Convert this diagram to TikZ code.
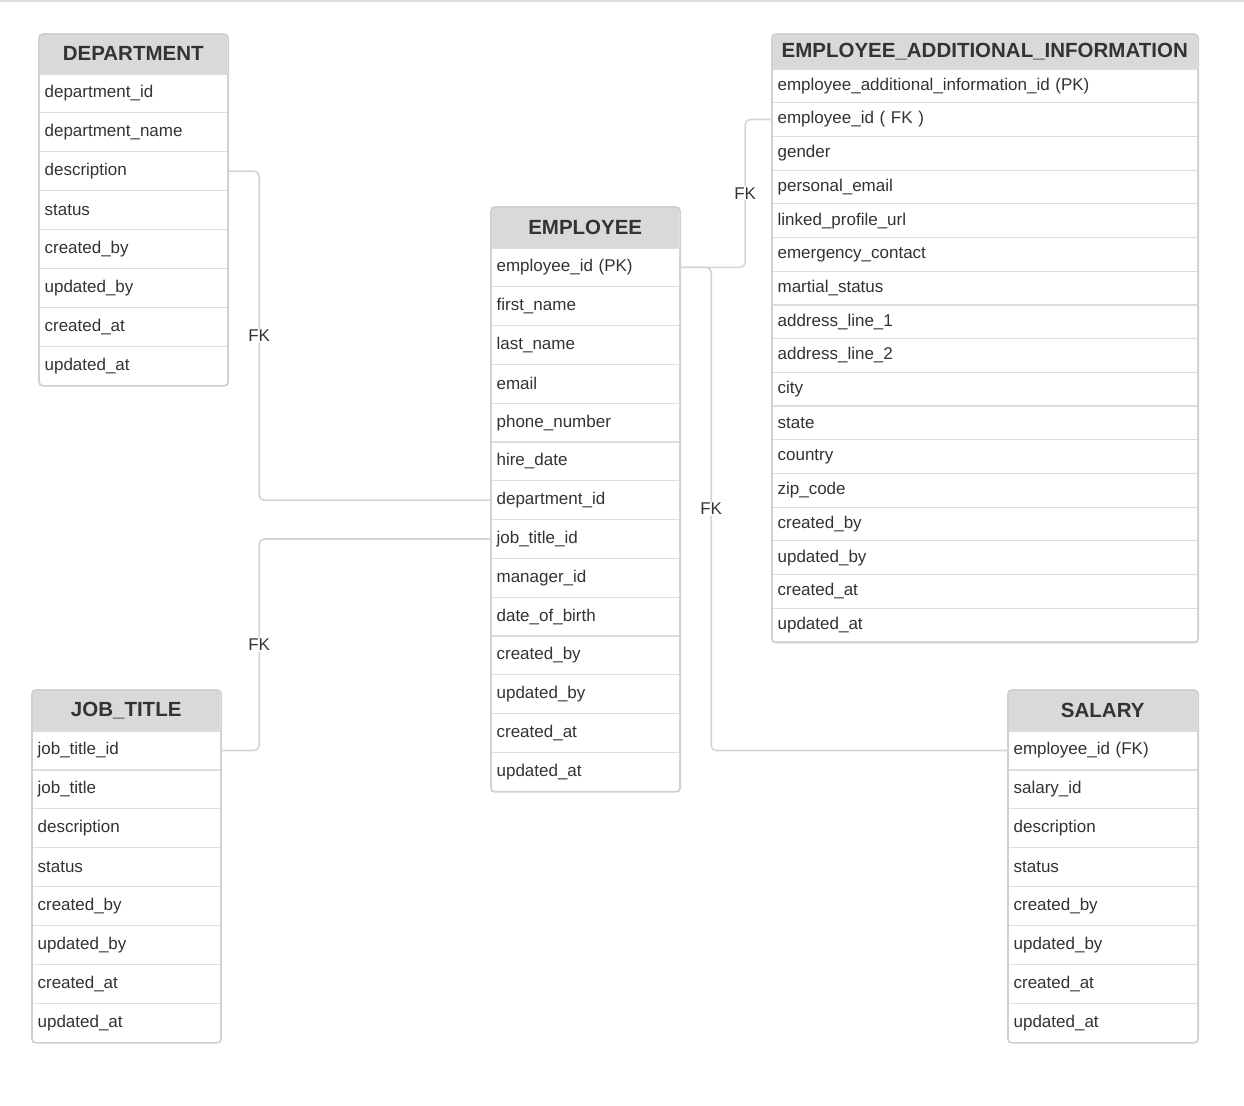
\documentclass[tikz,border=0pt]{standalone}
\usepackage{fontspec}
\setmainfont{Liberation Sans}
\usetikzlibrary{positioning, fit}
\definecolor{inkgray}{RGB}{51,51,51}
\definecolor{headfill}{RGB}{217,217,217}
\definecolor{rowline}{RGB}{221,221,221}
\definecolor{frameline}{RGB}{208,208,208}
\definecolor{linkline}{RGB}{212,212,212}

\begin{document}
\begin{tikzpicture}[
  x=1pt, y=-1pt,
  tblhead/.style n args={2}{anchor=north west, fill=headfill, text=inkgray, inner sep=0pt,
    font=\fontsize{20.5}{24}\selectfont\bfseries, minimum width=#1, minimum height=#2},
  tblrow/.style n args={2}{anchor=north west, draw=rowline, line width=1.2pt, fill=white,
    text=inkgray, font=\fontsize{17}{20}\selectfont, inner xsep=5pt, inner ysep=0pt,
    text width=#1, minimum height=#2, align=left},
  tblframe/.style={draw=frameline, line width=1.6pt, rounded corners=4pt, inner sep=0pt},
  fkline/.style={draw=linkline, line width=1.6pt, rounded corners=5pt},
  fklabel/.style={fill=white, text=inkgray, font=\fontsize{17}{20}\selectfont, inner sep=1pt}
]
\useasboundingbox (0,0) rectangle (1244,1105);
\draw[rowline, line width=1.5pt] (0,1) -- (1244,1);

% department
\node[tblhead={188pt}{39pt}] (dept) at (39,34) {DEPARTMENT};
\foreach \f [count=\i] in {department\_id, department\_name, description, status,
    created\_by, updated\_by, created\_at, updated\_at}
  \node[tblrow={178pt}{38.9pt}] (dept-\i) at ([yshift={-(\i-1)*38.9pt}]dept.south west) {\f};
\node[tblframe, fit=(dept)(dept-8)] {};

% employee
\node[tblhead={188pt}{40pt}] (emp) at (491,207) {EMPLOYEE};
\foreach \f [count=\i] in {employee\_id (PK), first\_name, last\_name, email, phone\_number,
    hire\_date, department\_id, job\_title\_id, manager\_id, date\_of\_birth,
    created\_by, updated\_by, created\_at, updated\_at}
  \node[tblrow={178pt}{38.8pt}] (emp-\i) at ([yshift={-(\i-1)*38.8pt}]emp.south west) {\f};
\node[tblframe, fit=(emp)(emp-14)] {};

% employee additional information
\node[tblhead={425pt}{34pt}] (eai) at (772,34) {EMPLOYEE\_ADDITIONAL\_INFORMATION};
\foreach \f [count=\i] in {employee\_additional\_information\_id (PK), employee\_id ( FK ),
    gender, personal\_email, linked\_profile\_url, emergency\_contact, martial\_status,
    address\_line\_1, address\_line\_2, city, state, country, zip\_code,
    created\_by, updated\_by, created\_at, updated\_at}
  \node[tblrow={415pt}{33.7pt}] (eai-\i) at ([yshift={-(\i-1)*33.7pt}]eai.south west) {\f};
\node[tblframe, fit=(eai)(eai-17)] {};

% job title
\node[tblhead={188pt}{40pt}] (job) at (32,690) {JOB\_TITLE};
\foreach \f [count=\i] in {job\_title\_id, job\_title, description, status,
    created\_by, updated\_by, created\_at, updated\_at}
  \node[tblrow={178pt}{38.9pt}] (job-\i) at ([yshift={-(\i-1)*38.9pt}]job.south west) {\f};
\node[tblframe, fit=(job)(job-8)] {};

% salary
\node[tblhead={189pt}{40pt}] (sal) at (1008,690) {SALARY};
\foreach \f [count=\i] in {employee\_id (FK), salary\_id, description, status,
    created\_by, updated\_by, created\_at, updated\_at}
  \node[tblrow={179pt}{38.9pt}] (sal-\i) at ([yshift={-(\i-1)*38.9pt}]sal.south west) {\f};
\node[tblframe, fit=(sal)(sal-8)] {};

% foreign keys
\draw[fkline] (dept-3.east) -- ++(31,0) |- node[fklabel, pos=0.25] {FK} (emp-7.west);
\draw[fkline] (job-1.east) -- ++(38,0) |- node[fklabel, pos=0.25] {FK} (emp-8.west);
\draw[fkline] (emp-1.east) -- ++(65,0) |- node[fklabel, pos=0.25] {FK} (eai-2.west);
\draw[fkline] (emp-1.east) -- ++(31,0) |- node[fklabel, pos=0.25] {FK} (sal-1.west);
\end{tikzpicture}
\end{document}
